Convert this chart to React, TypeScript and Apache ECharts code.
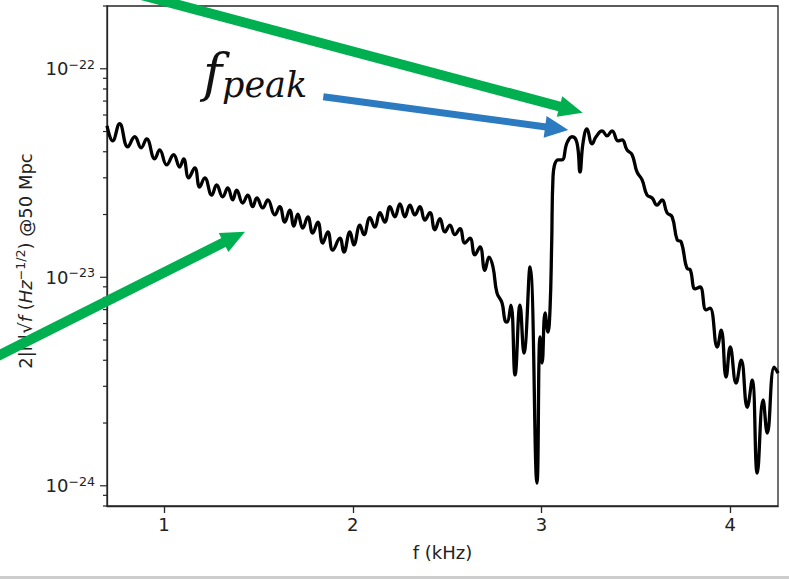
import React, { useEffect, useRef } from "react";
import * as echarts from "echarts";

// frequency (kHz)
const FREQ_KHZ = [
  0.698, 0.728, 0.765, 0.808, 0.845, 0.879, 0.908, 0.951, 0.977, 1.014,
  1.051, 1.083, 1.104, 1.131, 1.163, 1.189, 1.216, 1.253, 1.279, 1.311,
  1.338, 1.364, 1.385, 1.417, 1.444, 1.47, 1.492, 1.523, 1.55, 1.587,
  1.613, 1.64, 1.666, 1.688, 1.709, 1.735, 1.762, 1.788, 1.815, 1.841,
  1.868, 1.894, 1.932, 1.953, 1.985, 2.006, 2.038, 2.059, 2.091, 2.117,
  2.144, 2.17, 2.197, 2.223, 2.25, 2.276, 2.303, 2.329, 2.356, 2.382,
  2.409, 2.435, 2.462, 2.488, 2.515, 2.541, 2.568, 2.594, 2.621, 2.647,
  2.674, 2.7, 2.722, 2.743, 2.764, 2.791, 2.806, 2.817, 2.838, 2.86,
  2.886, 2.907, 2.939, 2.976, 2.992, 3.003, 3.019, 3.034, 3.045, 3.054,
  3.061, 3.088, 3.109, 3.135, 3.162, 3.188, 3.204, 3.22, 3.241, 3.268,
  3.289, 3.321, 3.347, 3.374, 3.406, 3.427, 3.453, 3.48, 3.506, 3.533,
  3.559, 3.586, 3.612, 3.639, 3.665, 3.692, 3.719, 3.74, 3.772, 3.787,
  3.814, 3.84, 3.872, 3.893, 3.931, 3.952, 3.978, 4.0, 4.031, 4.058,
  4.09, 4.116, 4.143, 4.174, 4.196, 4.233, 4.254,
];

// 2|h~|sqrt(f) in units of 1e-24 Hz^-1/2 @ 50 Mpc
const AMP_E24 = [
  53.3, 45.1, 54.5, 42.2, 47.2, 41.8, 46.1, 37.0, 40.8, 34.6,
  38.7, 33.8, 37.0, 30.0, 33.5, 27.1, 30.0, 24.8, 27.7, 24.3,
  26.8, 23.5, 26.2, 22.7, 24.8, 21.8, 24.0, 21.5, 23.5, 19.9,
  21.8, 18.4, 21.0, 17.6, 20.1, 17.2, 19.5, 16.3, 18.4, 14.6,
  16.5, 13.5, 15.4, 13.2, 16.5, 14.3, 17.8, 16.0, 19.3, 17.4,
  20.4, 18.4, 21.8, 19.5, 22.5, 19.5, 22.2, 19.9, 21.8, 18.8,
  20.4, 16.9, 19.1, 16.5, 17.8, 16.0, 17.1, 14.6, 15.4, 12.8,
  14.0, 10.8, 12.5, 11.2, 8.41, 7.53, 6.24, 6.1, 7.36, 3.4,
  7.36, 4.33, 11.2, 1.03, 5.17, 3.88, 6.74, 5.46, 6.97, 14.6,
  30.3, 36.6, 36.6, 44.1, 47.2, 44.1, 32.0, 44.1, 51.5, 43.6,
  47.2, 50.4, 47.7, 50.4, 45.1, 45.6, 40.8, 38.7, 32.0, 29.3,
  24.8, 24.0, 22.2, 23.5, 20.4, 19.5, 15.1, 14.8, 11.0, 10.9,
  8.79, 8.98, 6.97, 7.12, 4.63, 5.58, 3.32, 4.63, 3.11, 4.01,
  2.38, 3.21, 1.15, 2.58, 1.79, 3.71, 3.47,
];

const X_TICKS = [1, 2, 3, 4];
const Y_MAJOR = [1, 10, 100]; // x1e-24 -> 10^-24, 10^-23, 10^-22
const Y_MINOR = [0.8, 0.9, 2, 3, 4, 5, 6, 7, 8, 9, 20, 30, 40, 50, 60, 70, 80, 90, 200];
const Y_EXP_OFFSET = -24;

const X_MIN = 0.698;
const X_MAX = 4.253;
const Y_MIN = 0.8;
const Y_MAX = 200;

const FONT = "DejaVu Sans";
const AXIS_COLOR = "#262626";
const GREEN = "#00B050";
const BLUE = "#2C7BC0";

function arrow(x0: number, y0: number, x1: number, y1: number, w: number, hl: number, hw: number, color: string) {
  const dx = x1 - x0;
  const dy = y1 - y0;
  const L = Math.hypot(dx, dy);
  const ux = dx / L;
  const uy = dy / L;
  const bx = x1 - ux * hl;
  const by = y1 - uy * hl;
  const px = -uy;
  const py = ux;
  return [
    {
      type: "line",
      z: 100,
      shape: { x1: x0, y1: y0, x2: bx + ux * 3, y2: by + uy * 3 },
      style: { stroke: color, lineWidth: w, lineCap: "butt" },
    },
    {
      type: "polygon",
      z: 100,
      shape: {
        points: [
          [x1, y1],
          [bx + px * hw, by + py * hw],
          [bx - px * hw, by - py * hw],
        ],
      },
      style: { fill: color },
    },
  ];
}

export default function App() {
  const ref = useRef<HTMLDivElement>(null);

  useEffect(() => {
    if (!ref.current) return;
    const chart = echarts.init(ref.current, null, { renderer: "svg" });

    const lineData = FREQ_KHZ.map((f, i) => [f, AMP_E24[i]]);
    const tickData = [
      ...Y_MAJOR.map((v) => [X_MIN, v, 1]),
      ...Y_MINOR.map((v) => [X_MIN, v, 0]),
    ];

    const option: any = {
      animation: false,
      backgroundColor: "#ffffff",
      grid: {
        left: 107,
        top: 6,
        right: 11,
        bottom: 73,
        show: true,
        borderColor: AXIS_COLOR,
        borderWidth: 1.3,
        backgroundColor: "transparent",
      },
      xAxis: {
        type: "value",
        min: X_MIN,
        max: X_MAX,
        splitLine: { show: false },
        axisLine: { show: true, lineStyle: { color: AXIS_COLOR, width: 1.3 } },
        axisTick: {
          show: true,
          customValues: X_TICKS,
          length: 7,
          lineStyle: { color: AXIS_COLOR, width: 1.3 },
        },
        axisLabel: {
          customValues: X_TICKS,
          fontFamily: FONT,
          fontSize: 18,
          color: "#222",
          margin: 9,
          formatter: (v: number) => String(Math.round(v)),
        },
        name: "f (kHz)",
        nameLocation: "middle",
        nameGap: 37,
        nameTextStyle: { fontFamily: FONT, fontSize: 18, color: "#222" },
      },
      yAxis: {
        type: "log",
        logBase: 10,
        min: Y_MIN,
        max: Y_MAX,
        splitLine: { show: false },
        axisLine: { show: true, lineStyle: { color: AXIS_COLOR, width: 1.3 } },
        axisTick: { show: false },
        axisLabel: {
          margin: 12,
          formatter: (v: number) => {
            const e = Math.log10(v);
            const r = Math.round(e);
            if (Math.abs(e - r) > 1e-6) return "";
            const ex = r + Y_EXP_OFFSET;
            return `{b|10}{s|${ex < 0 ? "\u2212" : ""}${Math.abs(ex)}}`;
          },
          rich: {
            b: { fontFamily: FONT, fontSize: 18, color: "#222", lineHeight: 22 },
            s: { fontFamily: FONT, fontSize: 12.6, color: "#222", verticalAlign: "top", lineHeight: 13 },
          },
        },
      },
      series: [
        {
          type: "line",
          data: lineData,
          showSymbol: false,
          smooth: 0.45,
          lineStyle: { color: "#000", width: 3.3 },
          clip: true,
          silent: true,
          z: 5,
        },
        {
          type: "custom",
          data: tickData,
          clip: false,
          silent: true,
          z: 6,
          renderItem: (params: any, api: any) => {
            const p = api.coord([api.value(0), api.value(1)]);
            const len = api.value(2) ? 7 : 4;
            return {
              type: "line",
              shape: { x1: p[0] - len, y1: p[1], x2: p[0], y2: p[1] },
              style: { stroke: AXIS_COLOR, lineWidth: 1.2 },
            };
          },
        },
      ],
      graphic: {
        elements: [
          {
            type: "text",
            x: 25,
            y: 261,
            rotation: Math.PI / 2,
            z: 50,
            style: {
              text: "{n|2|h\u0303|\u221A}{i|f}{n| (}{i|Hz}{s|\u22121/2}{n|) @50 Mpc}",
              align: "center",
              verticalAlign: "middle",
              textAlign: "center",
              textVerticalAlign: "middle",
              rich: {
                n: { fontFamily: FONT, fontSize: 18, fill: "#222", lineHeight: 22 },
                i: { fontFamily: FONT, fontSize: 18, fontStyle: "italic", fill: "#222", lineHeight: 22 },
                s: { fontFamily: FONT, fontSize: 12.6, fill: "#222", verticalAlign: "top", lineHeight: 13 },
              },
            },
          },
          {
            type: "text",
            x: 203,
            y: 73,
            z: 100,
            style: {
              text: "f",
              font: 'italic 52px "DejaVu Serif"',
              fill: "#111",
              align: "left",
              verticalAlign: "middle",
              textAlign: "left",
              textVerticalAlign: "middle",
            },
          },
          {
            type: "text",
            x: 222,
            y: 85,
            z: 100,
            style: {
              text: "peak",
              font: 'italic 35px "DejaVu Serif"',
              fill: "#111",
              align: "left",
              verticalAlign: "middle",
              textAlign: "left",
              textVerticalAlign: "middle",
            },
          },
          ...arrow(130, -8, 582.7, 112.7, 10, 24, 10.7, GREEN),
          ...arrow(-20, 365, 245, 231.7, 10, 24, 10.7, GREEN),
          ...arrow(323.3, 96.7, 568.3, 130, 7, 23.4, 10.9, BLUE),
          {
            type: "rect",
            z: 100,
            shape: { x: 0, y: 576, width: 789, height: 3 },
            style: { fill: "#cdcdcd" },
          },
        ],
      },
    };

    chart.setOption(option);
    return () => chart.dispose();
  }, []);

  return (
    <div
      ref={ref}
      style={{ position: "absolute", left: 0, top: 0, width: 789, height: 579 }}
    />
  );
}
